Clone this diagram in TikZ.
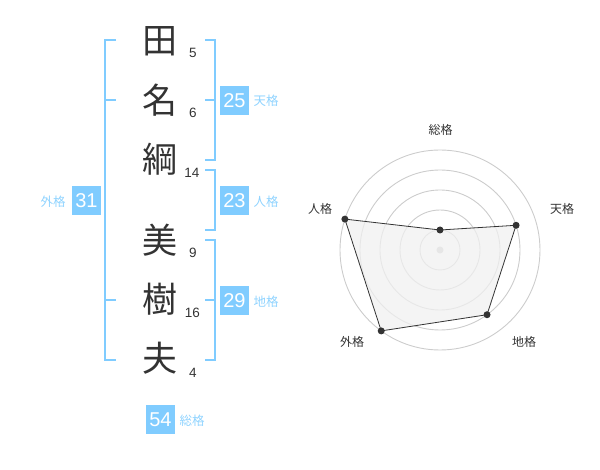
\documentclass[tikz,border=0pt]{standalone}
\usepackage{fontspec}
\setmainfont{Liberation Sans}
\newfontfamily\jp{Noto Sans CJK JP}
\usetikzlibrary{calc}
\definecolor{bl}{HTML}{80CCFF}
\definecolor{bltxt}{HTML}{8FD3FF}
\definecolor{ink}{HTML}{333333}
\definecolor{ring}{HTML}{CCCCCC}
\definecolor{area}{HTML}{F0F0F0}
\begin{document}
\begin{tikzpicture}[x=1pt,y=-1pt,
  kanji/.style={inner sep=0pt,text=ink,font=\jp\fontsize{35}{35}\selectfont},
  stroke/.style={inner sep=0pt,text=ink,font=\fontsize{13.5}{13.5}\selectfont},
  brk/.style={draw=bl,line width=2pt},
  valbox/.style={fill=bl,text=white,minimum size=29pt,inner sep=0pt,font=\fontsize{20}{20}\selectfont},
  kaku/.style={inner sep=0pt,text=bltxt,font=\jp\fontsize{12.5}{12.5}\selectfont},
  axlab/.style={inner sep=0pt,text=ink,font=\jp\fontsize{12}{12}\selectfont},
  dot/.style={circle,fill=ink,inner sep=0pt,minimum size=7pt},
  ringline/.style={draw=ring,line width=0.9pt}]
\useasboundingbox (0,0) rectangle (600,470);

% name characters
\node[kanji] (c1) at (160,41) {田};
\node[kanji] (c2) at (160,100) {名};
\node[kanji] (c3) at (160,159) {綱};
\node[kanji] (c4) at (160,240) {美};
\node[kanji] (c5) at (160,299) {樹};
\node[kanji] (c6) at (160,358) {夫};
\node[stroke] (s1) at (193,52.5) {5};
\node[stroke] (s2) at (193,112.5) {6};
\node[stroke] (s3) at (192,172.5) {14};
\node[stroke] (s4) at (193,252.5) {9};
\node[stroke] (s5) at (192.5,312.5) {16};
\node[stroke] (s6) at (193,372.5) {4};

% brackets
\draw[brk] (116,40) -- (105,40) -- (105,360) -- (116,360);
\draw[brk] (105,100) -- (116,100);
\draw[brk] (105,300) -- (116,300);
\draw[brk] (205,40) -- (215,40) -- (215,160) -- (205,160);
\draw[brk] (205,100) -- (215,100);
\draw[brk] (205,170) -- (215,170) -- (215,230) -- (205,230);
\draw[brk] (205,240) -- (215,240) -- (215,360) -- (205,360);
\draw[brk] (205,300) -- (215,300);

% values
\node[valbox] (v25) at (234.5,100.5) {25};
\node[kaku] (l25) at (266,101) {天格};
\node[valbox] (v23) at (234.5,200.5) {23};
\node[kaku] (l23) at (266,201.5) {人格};
\node[valbox] (v29) at (234.5,300.5) {29};
\node[kaku] (l29) at (266,302) {地格};
\node[valbox] (v31) at (86.5,200.5) {31};
\node[kaku] (l31) at (53,201.5) {外格};
\node[valbox] (v54) at (160.5,419.5) {54};
\node[kaku] (l54) at (192,421) {総格};

% radar chart
\coordinate (C) at (440,250);
\foreach \r in {20,40,60,80,100} \draw[ringline] (C) circle (\r);
\node[circle,fill=ring,inner sep=0pt,minimum size=7pt] (cdot) at (C) {};
\coordinate (pS) at ($(C)+(-90:20)$);
\coordinate (pT) at ($(C)+(-18:80)$);
\coordinate (pC) at ($(C)+(54:80)$);
\coordinate (pG) at ($(C)+(126:100)$);
\coordinate (pJ) at ($(C)+(198:100)$);
\filldraw[fill=area,fill opacity=0.75,draw=ink,line width=0.8pt] (pS) -- (pT) -- (pC) -- (pG) -- (pJ) -- cycle;
\foreach \p in {pS,pT,pC,pG,pJ} \node[dot] at (\p) {};
\node[axlab] (aS) at (440.5,130) {総格};
\node[axlab] (aT) at (562,209) {天格};
\node[axlab] (aC) at (524,342) {地格};
\node[axlab] (aG) at (352,342) {外格};
\node[axlab] (aJ) at (320,209) {人格};
\end{tikzpicture}
\end{document}
